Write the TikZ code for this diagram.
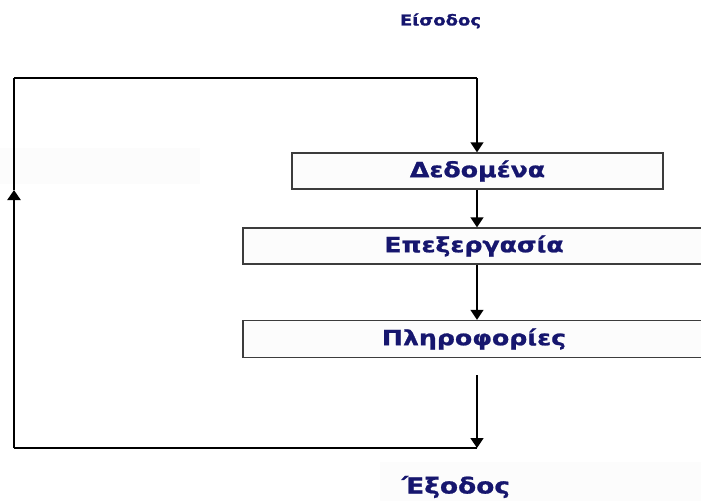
\documentclass[tikz,border=0pt]{standalone}
\usepackage{fontspec}
\setmainfont{DejaVu Sans}
\newfontfamily\widesans[FakeStretch=1.2,FakeBold=1]{DejaVu Sans}
\usetikzlibrary{arrows.meta}
\definecolor{navy}{RGB}{22,22,110}
\definecolor{edge}{RGB}{60,60,60}
\tikzset{
  stepbox/.style={draw=edge, line width=1.4pt, fill=black!1, inner sep=0pt,
    font=\widesans\fontsize{21}{24}\selectfont\bfseries, text=navy},
  caption/.style={inner sep=0pt, text=navy},
  tip/.style={-{Triangle[width=13pt,length=10pt]}},
  flow/.style={line width=1.5pt, tip},
  loopline/.style={line width=2.2pt}
}
\begin{document}
\begin{tikzpicture}[x=1pt,y=-1pt]
  \useasboundingbox (0,0) rectangle (701,501);
  \clip (0,0) rectangle (701,501);
  % faint background panels
  \fill[black!1] (0,148) rectangle (200,184);
  \fill[black!1] (380,462) rectangle (701,501);

  % labels for input and output
  \node[caption, font=\widesans\fontsize{15}{17}\selectfont\bfseries] (in) at (440.5,21) {Είσοδος};
  \node[caption, font=\widesans\fontsize{22}{25}\selectfont\bfseries] (out) at (456,487) {Έξοδος};

  % process steps
  \node[stepbox, minimum width=371pt, minimum height=36pt] (dat) at (477.5,171) {Δεδομένα};
  \node[stepbox, minimum width=462pt, minimum height=36pt] (proc) at (474,246) {Επεξεργασία};
  \node[stepbox, minimum width=462pt, minimum height=37pt] (info) at (474,339) {Πληροφορίες};

  % feedback loop corners
  \coordinate (tl) at (14,78);
  \coordinate (tr) at (477,78);
  \coordinate (bl) at (14,448);
  \coordinate (br) at (477,448);
  \coordinate (src) at (477,375);
  \coordinate (up) at (14,190);

  % forward flow
  \draw[line width=1.5pt] (tl) -- (tr);
  \draw[flow] (tr) -- (tr |- dat.north);
  \draw[flow] (tr |- dat.south) -- (tr |- proc.north);
  \draw[flow] (tr |- proc.south) -- (tr |- info.north);
  \draw[flow] (src) -- (br);

  % return path
  \draw[loopline] (br) -- (bl);
  \draw[loopline, tip] (bl) -- (up);
  \draw[line width=1.5pt] (up) -- (tl);
\end{tikzpicture}
\end{document}
